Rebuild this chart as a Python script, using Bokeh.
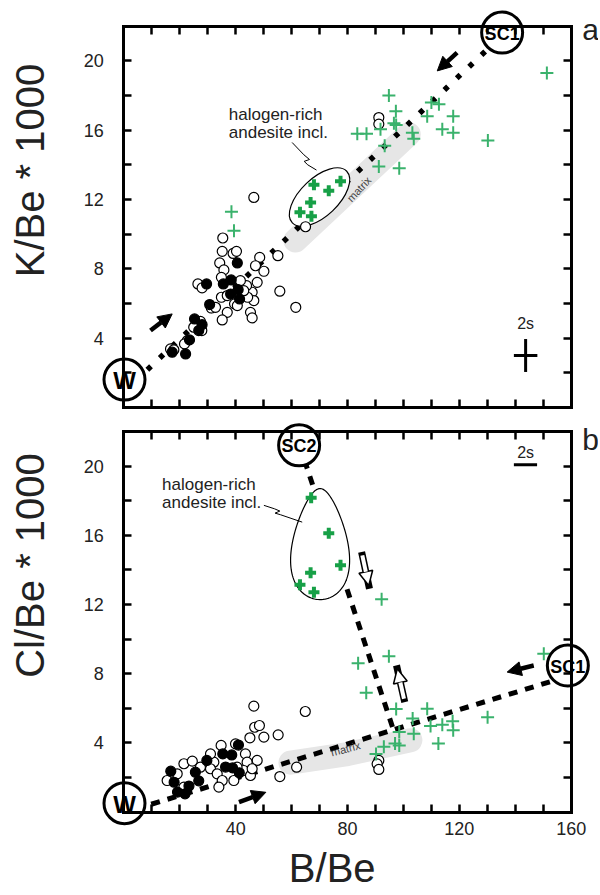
import numpy as np
from bokeh.plotting import figure
from bokeh.layouts import column
from bokeh.models import (Range1d, FixedTicker, LinearAxis, Label, Arrow, NormalHead)
from bokeh.embed import file_html
from bokeh.resources import INLINE

FONT = "Liberation Sans"
X_MIN, X_MAX, Y_MIN, Y_MAX = 0, 160, 0, 22

x_ticks = list(range(0, 161, 10))
x_label_ticks = [40, 80, 120, 160]
y_ticks = list(range(0, 23, 2))
y_label_ticks = [4, 8, 12, 16, 20]

# ---------------- panel a : K/Be*1000 vs B/Be ----------------
a_open_x = [91.2, 91.2, 46.5, 65.0, 55.1, 55.8, 61.5, 35.4, 35.2, 39.1, 40.3, 34.3,
            35.8, 48.6, 47.1, 50.1, 47.7, 45.9, 46.5, 26.5, 28.0, 34.9, 34.9, 37.0,
            39.6, 37.0, 35.2, 31.3, 32.8, 43.9, 44.3, 45.3, 45.9, 27.4, 27.9, 25.0,
            22.7, 21.7, 16.7, 17.9, 41.7, 42.9, 40.6]
a_open_y = [16.73, 16.35, 12.12, 10.43, 8.76, 6.71, 5.78, 9.78, 9.01, 8.89, 9.01, 8.34,
            7.94, 8.66, 8.18, 7.86, 7.22, 6.65, 6.17, 7.13, 6.90, 7.51, 6.36, 6.46,
            5.98, 5.49, 5.05, 5.74, 5.78, 7.03, 6.36, 5.49, 5.17, 4.97, 4.44, 4.63,
            3.86, 3.67, 3.38, 3.33, 7.32, 6.74, 5.88]
a_fill_x = [40.6, 29.6, 35.6, 38.4, 38.2, 40.9, 41.4, 30.7, 25.3, 26.8, 28.0, 23.5, 17.3, 22.1]
a_fill_y = [8.34, 7.13, 7.13, 7.36, 6.55, 6.80, 6.26, 5.94, 5.11, 4.44, 4.78, 3.90, 3.19, 3.09]
a_cross_x = [151.3, 94.8, 97.3, 110.0, 112.7, 108.5, 117.8, 96.6, 97.4, 91.8, 83.5, 86.8,
             103.2, 103.7, 113.9, 117.8, 130.2, 93.3, 91.2, 98.5, 38.5, 39.4]
a_cross_y = [19.30, 18.00, 17.10, 17.60, 17.50, 16.80, 16.80, 16.40, 16.30, 16.05, 15.80, 15.80,
             15.85, 15.50, 16.05, 15.85, 15.40, 15.10, 13.90, 13.80, 11.30, 10.20]
a_incl_x = [68.0, 73.3, 77.5, 66.8, 63.0, 67.1]
a_incl_y = [12.85, 12.51, 13.05, 11.83, 11.26, 11.03]

a_mix_x = [4.0, 132.0]          # W -> SC1 mixing line
a_mix_y = [1.51, 20.96]
a_matrix_x = [61.4, 101.9]
a_matrix_y = [9.63, 15.77]
a_node_names = ["W", "SC1"]
a_node_x = [0.25, 135.3]
a_node_y = [1.61, 21.63]

# ---------------- panel b : Cl/Be*1000 vs B/Be ----------------
b_open_x = [46.5, 64.9, 46.8, 48.5, 50.1, 45.1, 55.2, 61.8, 55.8, 91.2, 90.6, 91.2,
            21.5, 24.5, 19.1, 27.4, 32.2, 31.0, 34.8, 39.95, 43.5, 47.7, 44.1, 33.4,
            35.2, 34.0, 39.35, 42.9, 45.3, 45.9, 15.5, 21.5, 31.0, 40.5]
b_open_y = [6.12, 5.81, 4.90, 5.00, 4.33, 4.29, 4.46, 2.59, 2.05, 2.98, 2.78, 2.46,
            2.79, 2.94, 2.21, 2.59, 2.88, 2.50, 3.85, 3.94, 3.36, 2.98, 2.88, 2.21,
            1.82, 1.44, 1.82, 2.40, 2.11, 2.50, 1.82, 1.44, 3.36, 2.59]
b_fill_x = [16.8, 18.0, 19.2, 21.9, 23.3, 25.6, 26.8, 29.7, 35.4, 38.6, 36.4, 38.9, 41.3, 41.0]
b_fill_y = [2.36, 1.72, 1.15, 1.05, 1.50, 2.30, 1.80, 2.98, 3.36, 3.30, 2.60, 2.55, 2.27, 3.87]
b_cross_x = [92.2, 94.8, 83.8, 86.7, 97.4, 108.5, 103.3, 130.1, 109.7, 113.9, 117.6, 117.8,
             98.5, 103.7, 112.5, 93.0, 97.0, 98.5, 90.2, 150.2]
b_cross_y = [12.30, 9.00, 8.60, 6.90, 5.95, 5.97, 5.40, 5.48, 4.97, 5.05, 5.25, 4.73,
             4.62, 4.52, 3.96, 3.77, 3.96, 3.85, 3.35, 9.15]
b_incl_x = [67.0, 73.3, 77.5, 66.8, 63.0, 68.0]
b_incl_y = [18.17, 16.12, 14.26, 13.83, 13.14, 12.71]

b_mix1_x = [4.0, 155.0]         # W -> SC1
b_mix1_y = [0.16, 7.66]
b_mix2_x = [62.7, 96.2]         # SC2 -> mixing line
b_mix2_y = [21.28, 4.86]
b_matrix_x = [59.6, 80.0, 102.5]
b_matrix_y = [2.85, 3.35, 4.15]
b_node_names = ["W", "SC1", "SC2"]
b_node_x = [0.25, 158.8, 62.7]
b_node_y = [0.51, 8.47, 21.2]

GREEN_THIN = "#3ab26c"
GREEN_BOLD = "#17a047"
GREY_BAND = "#e6e6e6"
TXT = "#222222"

# ---------------- layout geometry (pixels inside each figure) ----------------
FIG_W = 598
BOX_L, BOX_R = 123.3, 570.7
PPX = (BOX_R - BOX_L) / (X_MAX - X_MIN)
GEOM_A = dict(h=418, top=25.7, bottom=407.0)
GEOM_B = dict(h=475, top=13.0, bottom=393.5)


def make_fig(g):
    ppy = (g["bottom"] - g["top"]) / (Y_MAX - Y_MIN)
    xr = Range1d(X_MIN - BOX_L / PPX, X_MAX + (FIG_W - BOX_R) / PPX)
    yr = Range1d(Y_MIN - (g["h"] - g["bottom"]) / ppy, Y_MAX + g["top"] / ppy)
    p = figure(width=FIG_W, height=g["h"], x_range=xr, y_range=yr,
               output_backend="svg", toolbar_location=None, title=None,
               x_axis_location=None, y_axis_location=None, min_border=0,
               background_fill_color="white", border_fill_color="white",
               outline_line_color=None)
    p.xgrid.visible = False
    p.ygrid.visible = False
    return p, ppy


def add_axes(p, show_x):
    specs = [("left", X_MIN, (Y_MIN, Y_MAX), y_ticks),
             ("right", X_MAX, (Y_MIN, Y_MAX), y_ticks),
             ("below", Y_MIN, (X_MIN, X_MAX), x_ticks),
             ("above", Y_MAX, (X_MIN, X_MAX), x_ticks)]
    for side, loc, bnds, ticks in specs:
        ax = LinearAxis(fixed_location=loc, bounds=bnds, ticker=FixedTicker(ticks=ticks),
                        axis_line_width=3, axis_line_color="black", axis_line_cap="square",
                        major_tick_in=8, major_tick_out=0, major_tick_line_width=2.5,
                        major_tick_line_color="black", minor_tick_line_color=None,
                        major_label_text_color=None)
        p.add_layout(ax, side)
    lab = dict(axis_line_color=None, major_tick_line_color=None, minor_tick_line_color=None,
               major_tick_in=0, major_tick_out=0, major_label_text_font=FONT,
               major_label_text_font_size="18px", major_label_text_color=TXT)
    p.add_layout(LinearAxis(fixed_location=X_MIN, ticker=FixedTicker(ticks=y_label_ticks),
                            major_label_standoff=20, **lab), "left")
    if show_x:
        p.add_layout(LinearAxis(fixed_location=Y_MIN, ticker=FixedTicker(ticks=x_label_ticks),
                                major_label_standoff=10, **lab), "below")


def add_points(p, ox, oy, fx, fy, cx, cy, ix, iy):
    p.scatter(ox, oy, marker="circle", size=10, fill_color="white",
              line_color="black", line_width=1.2)
    p.scatter(fx, fy, marker="circle", size=10, fill_color="black",
              line_color="black", line_width=1.2)
    p.scatter(cx, cy, marker="cross", size=13, line_color=GREEN_THIN, line_width=2)
    p.scatter(ix, iy, marker="cross", size=11, line_color=GREEN_BOLD, line_width=4)


def add_nodes(p, names, nx, ny):
    p.scatter(nx, ny, marker="circle", size=41, fill_color="white",
              line_color="black", line_width=3)
    for nm, x, y in zip(names, nx, ny):
        p.add_layout(Label(x=x, y=y, text=nm, text_align="center", text_baseline="middle",
                           text_font=FONT, text_font_style="bold",
                           text_font_size="24px" if nm == "W" else "18px",
                           text_color="black", y_offset=-1))


def solid_arrow(p, x0, y0, x1, y1):
    p.add_layout(Arrow(x_start=x0, y_start=y0, x_end=x1, y_end=y1, line_width=4.5,
                       line_color="black",
                       end=NormalHead(size=14, fill_color="black", line_color="black",
                                      line_width=1)))


def hollow_arrow(p, x0, y0, x1, y1):
    p.add_layout(Arrow(x_start=x0, y_start=y0, x_end=x1, y_end=y1, line_width=7,
                       line_color="black", line_cap="square", end=None))
    p.add_layout(Arrow(x_start=x0, y_start=y0, x_end=x1, y_end=y1, line_width=4,
                       line_color="white",
                       end=NormalHead(size=14, fill_color="white", line_color="black",
                                      line_width=1.5)))


def text(p, x, y, s, size, **kw):
    color = kw.pop("color", TXT)
    p.add_layout(Label(x=x, y=y, text=s, text_font=FONT, text_font_size=size,
                       text_color=color, **kw))


def px_to_x(px):
    return (px - BOX_L) / PPX


def py_to_y(py, g, ppy):
    return (g["bottom"] - py) / ppy


# ---------------- panel a ----------------
pa, ppy_a = make_fig(GEOM_A)
pa.line(a_matrix_x, a_matrix_y, line_width=24, line_color=GREY_BAND, line_cap="round")
pa.line(a_mix_x, a_mix_y, line_width=5.5, line_color="black", line_dash="5 12")
pa.ellipse(x=[70.0], y=[12.14], width=75, height=38, angle=0.76,
           width_units="screen", height_units="screen",
           fill_color="white", line_color="black", line_width=1.2)
add_points(pa, a_open_x, a_open_y, a_fill_x, a_fill_y, a_cross_x, a_cross_y,
           a_incl_x, a_incl_y)
pa.line([60.2, 64.4, 66.4, 64.5, 65.8, 68.9], [15.29, 14.58, 14.31, 14.2, 14.0, 13.7],
        line_color="black", line_width=1)
pa.segment(x0=[139.5, 143.7], y0=[3.0, 2.05], x1=[147.9, 143.7], y1=[3.0, 3.95],
           line_color="black", line_width=3)
add_nodes(pa, a_node_names, a_node_x, a_node_y)
add_axes(pa, False)
text(pa, 143.7, 4.87, "2s", "16px", text_align="center", text_baseline="middle")
text(pa, 37.55, 16.35, "halogen-rich", "17px")
text(pa, 37.55, 15.33, "andesite incl.", "17px")
text(pa, 84.1, 12.6, "matrix", "11px", color="#444444", angle=0.82,
     text_align="center", text_baseline="middle")
solid_arrow(pa, 9.55, 4.44, 17.3, 5.40)
solid_arrow(pa, 119.2, 20.48, 112.1, 19.42)
text(pa, px_to_x(590), py_to_y(45.5, GEOM_A, ppy_a), "a", "30px", text_align="center")
text(pa, px_to_x(29), py_to_y(170, GEOM_A, ppy_a), "K/Be * 1000", "40px",
     angle=np.pi / 2, text_align="center", text_baseline="middle")

# ---------------- panel b ----------------
pb, ppy_b = make_fig(GEOM_B)
pb.line(b_matrix_x, b_matrix_y, line_width=24, line_color=GREY_BAND,
        line_cap="round", line_join="round")
pb.line(b_mix1_x, b_mix1_y, line_width=5, line_color="black", line_dash="9 8")
pb.line(b_mix2_x, b_mix2_y, line_width=5, line_color="black", line_dash="9 8")
t = np.linspace(0, 2 * np.pi, 140)
egg_dx = 28 * np.cos(t) * (1 - 0.35 * np.sin(t)) / PPX
egg_dy = 55.5 * np.sin(t) / ppy_b
pb.patch(70.2 + egg_dx, 15.49 + egg_dy, fill_color="white", line_color="black",
         line_width=1.2)
add_points(pb, b_open_x, b_open_y, b_fill_x, b_fill_y, b_cross_x, b_cross_y,
           b_incl_x, b_incl_y)
pb.line([50.1, 53.9, 55.8, 54.1, 56.0, 63.8], [17.73, 17.53, 17.40, 17.28, 17.19, 16.76],
        line_color="black", line_width=1)
pb.segment(x0=[139.5], y0=[20.08], x1=[147.8], y1=[20.08], line_color="black",
           line_width=3)
add_nodes(pb, b_node_names, b_node_x, b_node_y)
add_axes(pb, True)
text(pb, 143.7, 20.79, "2s", "16px", text_align="center", text_baseline="middle")
text(pb, 13.7, 18.36, "halogen-rich", "17px")
text(pb, 13.7, 17.34, "andesite incl.", "17px")
text(pb, 79.3, 3.65, "matrix", "11px", color="#444444", angle=0.26,
     text_align="center", text_baseline="middle")
solid_arrow(pb, 41.2, 0.57, 50.8, 1.14)
solid_arrow(pb, 146.6, 8.47, 137.1, 8.09)
hollow_arrow(pb, 85.3, 14.84, 87.6, 13.1)
hollow_arrow(pb, 100.2, 6.55, 97.8, 8.28)
text(pb, px_to_x(590), py_to_y(455 - 418, GEOM_B, ppy_b), "b", "30px", text_align="center")
text(pb, px_to_x(29), py_to_y(565 - 418, GEOM_B, ppy_b), "Cl/Be * 1000", "40px",
     angle=np.pi / 2, text_align="center", text_baseline="middle")
text(pb, px_to_x(331.7), py_to_y(889 - 418, GEOM_B, ppy_b), "B/Be", "40px",
     text_align="center")

layout = column(pa, pb)
open("out.html", "w").write(file_html(layout, INLINE))
